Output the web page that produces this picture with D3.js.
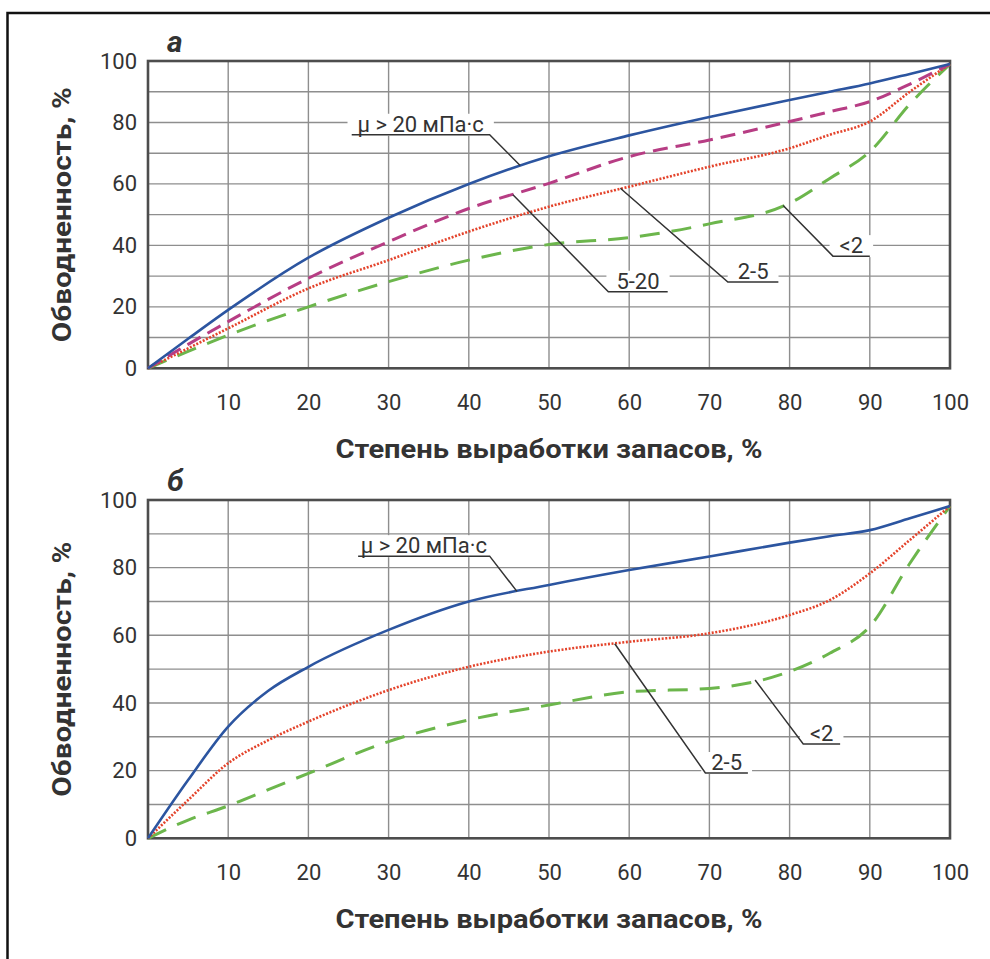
<!DOCTYPE html>
<html>
<head>
<meta charset="utf-8">
<script src="https://cdn.jsdelivr.net/npm/d3@7"></script>
<style>
  body { margin: 0; background: #fff; }
  svg text { font-family: Roboto, "Liberation Sans", sans-serif; fill: #333; }
</style>
</head>
<body>
<div id="chart"></div>
<script>
// ---- data (x = степень выработки, y = обводненность) ----
const xTicks = [10, 20, 30, 40, 50, 60, 70, 80, 90, 100];
const yTicks = [0, 20, 40, 60, 80, 100];
const gridVals = d3.range(0, 101, 10);

// panel а
const xA       = [0, 5, 10, 20, 30, 40, 50, 60, 70, 80, 85, 90, 95, 100];
const muA      = [0, 9.6, 19, 36, 49, 60, 69, 75.8, 81.8, 87.3, 90, 92.7, 95.8, 99];
const visc520A = [0, 7.8, 15.2, 29.3, 41.2, 52, 60.2, 68.9, 74.3, 80.3, 83.5, 86.8, 92.5, 99];
const visc25A  = [0, 6.5, 13, 26, 35.2, 44.5, 52.6, 59.1, 65.6, 71.6, 76, 80.3, 90, 99];
const visc2A   = [0, 5.5, 10.8, 20, 28.2, 35.2, 40.3, 42.5, 47, 53.7, 61.8, 70.5, 86, 99];

// panel б
const xB       = [0, 5, 10, 15, 20, 30, 40, 50, 60, 70, 80, 85, 90, 95, 100];
const muB      = [0, 17.2, 33, 43.6, 50.7, 61.6, 70, 74.9, 79.3, 83.3, 87.4, 89.3, 91.1, 94.6, 98.2];
const visc25B  = [0, 11.3, 22.2, 29, 34.5, 43.8, 50.7, 55.2, 58.1, 60.6, 66, 70.4, 78.3, 88.2, 98.2];
const visc2B   = [0, 5.4, 9.6, 14.4, 19.2, 28.6, 35, 39.4, 43.3, 44.3, 49.3, 54.7, 62.6, 81.3, 98.2];

const labelMu = "\u03bc > 20 мПа\u00b7с";
// callouts: text + leader polyline in data units
const notesA = [
  { text: labelMu, pts: [[25.4, 76], [42.6, 76], [46.4, 66]] },
  { text: "5-20",  pts: [[45.5, 56.5], [57.4, 24.9], [64.8, 24.9]] },
  { text: "2-5",   pts: [[58.9, 58.6], [72.3, 28.1], [78.6, 28.1]] },
  { text: "<2",    pts: [[79.2, 53], [85.4, 36.5], [90, 36.5]] }
];
const notesB = [
  { text: labelMu, pts: [[26.2, 83.4], [42.6, 83.4], [46, 73]] },
  { text: "2-5",   pts: [[58.2, 57.5], [69.5, 19.3], [74.8, 19.3]] },
  { text: "<2",    pts: [[75.7, 46.8], [81.7, 27.9], [86.3, 27.9]] }
];

const styles = {
  mu:   { color: "#2c55a0", width: 2.6, dash: null },
  v520: { color: "#b73d84", width: 3,   dash: "15,8" },
  v25:  { color: "#e4432b", width: 2.6, dash: "2,1.6" },
  v2:   { color: "#6cb64c", width: 3,   dash: "20,12" }
};

const W = 990, H = 959;
const svg = d3.select("#chart").append("svg").attr("width", W).attr("height", H);

// outer frame
svg.append("rect")
  .attr("x", 7.5).attr("y", 13).attr("width", 1000).attr("height", 1000)
  .attr("fill", "none").attr("stroke", "#111").attr("stroke-width", 2.5);

function drawPanel(cfg) {
  const x = d3.scaleLinear().domain([0, 100]).range([148, 950]);
  const y = d3.scaleLinear().domain([0, 100]).range([cfg.bottom, cfg.top]);
  const g = svg.append("g");

  // grid
  g.append("g").selectAll("line").data(gridVals).join("line")
    .attr("x1", d => x(d)).attr("x2", d => x(d))
    .attr("y1", cfg.top).attr("y2", cfg.bottom)
    .attr("stroke", "#8e8e8e").attr("stroke-width", 1.4);
  g.append("g").selectAll("line").data(gridVals).join("line")
    .attr("y1", d => y(d)).attr("y2", d => y(d))
    .attr("x1", 148).attr("x2", 950)
    .attr("stroke", "#8e8e8e").attr("stroke-width", 1.4);

  const maskLayer = g.append("g");

  // plot border
  g.append("rect")
    .attr("x", 148).attr("y", cfg.top)
    .attr("width", 802).attr("height", cfg.bottom - cfg.top)
    .attr("fill", "none").attr("stroke", "#4d4d4d").attr("stroke-width", 2.6);

  // axes labels
  const xAxis = g.append("g").attr("transform", `translate(0,${cfg.bottom})`)
    .call(d3.axisBottom(x).tickValues(xTicks).tickSize(0).tickPadding(26));
  const yAxis = g.append("g").attr("transform", "translate(148,0)")
    .call(d3.axisLeft(y).tickValues(yTicks).tickSize(0).tickPadding(11));
  [xAxis, yAxis].forEach(a => {
    a.select(".domain").remove();
    a.selectAll("text").attr("font-size", 22).attr("font-family", "Roboto").attr("fill", "#333");
  });

  // titles
  g.append("text")
    .attr("x", 549).attr("y", cfg.bottom + 90)
    .attr("text-anchor", "middle").attr("font-size", 26).attr("font-weight", "bold")
    .attr("textLength", 427).attr("lengthAdjust", "spacingAndGlyphs")
    .text("Степень выработки запасов, %");
  g.append("text")
    .attr("transform", `translate(71,${(cfg.top + cfg.bottom) / 2}) rotate(-90)`)
    .attr("text-anchor", "middle").attr("font-size", 26).attr("font-weight", "bold")
    .attr("textLength", 255).attr("lengthAdjust", "spacingAndGlyphs")
    .text("Обводненность, %");
  g.append("text")
    .attr("x", 167).attr("y", cfg.top - 9)
    .attr("font-size", 30).attr("font-weight", "bold").attr("font-style", "italic")
    .text(cfg.letter);

  // curves
  const line = d3.line().curve(d3.curveMonotoneX)
    .x(d => x(d[0])).y(d => y(d[1]));
  cfg.series.forEach(s => {
    const st = styles[s.key];
    g.append("path")
      .datum(s.xs.map((v, i) => [v, s.ys[i]]))
      .attr("d", line)
      .attr("fill", "none")
      .attr("stroke", st.color)
      .attr("stroke-width", st.width)
      .attr("stroke-dasharray", st.dash);
  });

  // callouts
  cfg.notes.forEach(n => {
    const pts = n.pts.map(p => [x(p[0]), y(p[1])]);
    const seg = n.pts[0][1] === n.pts[1][1] ? [pts[0], pts[1]] : [pts[1], pts[2]];
    const cx = (seg[0][0] + seg[1][0]) / 2;
    const t = g.append("text")
      .attr("x", cx).attr("y", seg[0][1] - 3)
      .attr("text-anchor", "middle").attr("font-size", 22)
      .text(n.text);
    const bb = t.node().getBBox();
    maskLayer.append("rect")
      .attr("x", bb.x - 10).attr("y", bb.y + 2)
      .attr("width", bb.width + 20).attr("height", bb.height - 3)
      .attr("fill", "#fff");
    g.append("path")
      .attr("d", d3.line()(pts))
      .attr("fill", "none").attr("stroke", "#333").attr("stroke-width", 1.5);
  });
}

drawPanel({
  top: 61, bottom: 368.3, letter: "а", notes: notesA,
  series: [
    { key: "v2", xs: xA, ys: visc2A },
    { key: "v25", xs: xA, ys: visc25A },
    { key: "v520", xs: xA, ys: visc520A },
    { key: "mu", xs: xA, ys: muA }
  ]
});
drawPanel({
  top: 500, bottom: 838.3, letter: "б", notes: notesB,
  series: [
    { key: "v2", xs: xB, ys: visc2B },
    { key: "v25", xs: xB, ys: visc25B },
    { key: "mu", xs: xB, ys: muB }
  ]
});
</script>
</body>
</html>
